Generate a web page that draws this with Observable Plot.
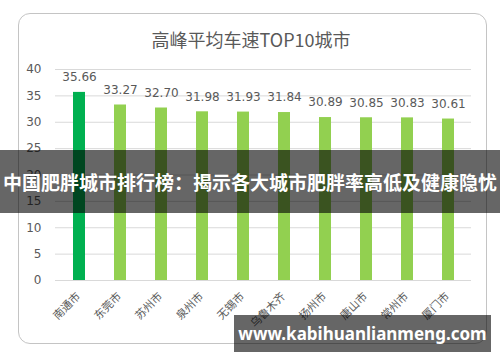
<!DOCTYPE html>
<html>
<head>
<meta charset="utf-8">
<script src="https://cdn.jsdelivr.net/npm/d3@7"></script>
<script src="https://cdn.jsdelivr.net/npm/@observablehq/plot@0.6"></script>
<style>
  html, body { margin: 0; padding: 0; background: #fff; }
  #wrap { position: relative; width: 500px; height: 362px; overflow: hidden; background: #fff; }
  #card { position: absolute; left: 18px; top: 13px; width: 467px; height: 329px; border: 1.5px solid #c4c4c4; border-radius: 12px; box-sizing: content-box; }
  #title { position: absolute; left: 0; top: 28px; width: 502px; text-align: center; font: 18px "Noto Sans CJK SC", sans-serif; line-height: 22px; color: #595959; }
  #chart { position: absolute; left: 0; top: 0; }
  #banner { position: absolute; left: 0; top: 150px; width: 500px; height: 63px; background: rgba(0,0,0,0.6); color: #fff; font: bold 19px "Noto Sans CJK SC", sans-serif; line-height: 63px; text-align: center; white-space: nowrap; }
  #wm { position: absolute; left: 234px; top: 315px; width: 257px; height: 37px; background: rgba(0,0,0,0.6); color: #fff; font: bold 17px "Noto Sans", "DejaVu Sans", sans-serif; line-height: 37px; text-align: center; white-space: nowrap; }
</style>
</head>
<body>
<div id="wrap">
  <div id="card"></div>
  <div id="chart"></div>
  <div id="title"></div>
  <div id="banner"></div>
  <div id="wm"></div>
</div>
<script>
const cities = ["南通市", "东莞市", "苏州市", "泉州市", "无锡市", "乌鲁木齐", "扬州市", "唐山市", "常州市", "厦门市"];
const speeds = [35.66, 33.27, 32.70, 31.98, 31.93, 31.84, 30.89, 30.85, 30.83, 30.61];
const yTicks = [0, 5, 10, 15, 20, 25, 30, 35, 40];
const titleText = "高峰平均车速TOP10城市";
const bannerText = "中国肥胖城市排行榜：揭示各大城市肥胖率高低及健康隐忧";
const watermarkText = "www.kabihuanlianmeng.com";
const barColors = ["#00b050", "#92d050"];

const data = cities.map((c, i) => ({ city: c, speed: speeds[i], color: i === 0 ? barColors[0] : barColors[1] }));

const chart = Plot.plot({
  width: 500,
  height: 362,
  marginLeft: 55,
  marginRight: 29,
  marginTop: 69,
  marginBottom: 82,
  style: { fontFamily: "DejaVu Sans, sans-serif", fontSize: "12px", color: "#595959", background: "transparent" },
  x: { domain: cities, paddingInner: 0.71, paddingOuter: 0.355, label: null, axis: null },
  y: { domain: [0, 40], label: null },
  color: { type: "identity" },
  marks: [
    Plot.gridY(yTicks, { stroke: "#d9d9d9", strokeOpacity: 1 }),
    Plot.barY(data, { x: "city", y: "speed", fill: "color" }),
    Plot.text(data, { x: "city", y: "speed", text: d => d.speed.toFixed(2), dy: -15, fill: "#595959", fontSize: 12 }),
    Plot.axisY(yTicks, { tickSize: 0, tickPadding: 14, fontSize: 12, fill: "#595959", label: null }),
    Plot.text(data, { x: "city", y: () => 0, text: "city", rotate: -45, textAnchor: "end", lineAnchor: "middle", dx: -1, dy: 14, fontFamily: "Noto Sans CJK SC", fontSize: 11, fill: "#595959" })
  ]
});
document.getElementById("chart").appendChild(chart);
document.getElementById("title").textContent = titleText;
document.getElementById("banner").textContent = bannerText;
document.getElementById("wm").textContent = watermarkText;
</script>
</body>
</html>
